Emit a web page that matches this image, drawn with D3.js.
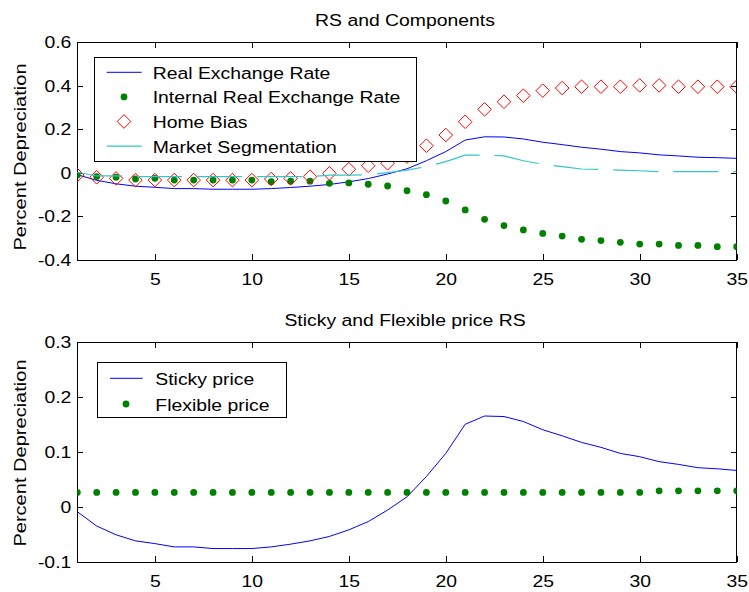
<!DOCTYPE html>
<html><head><meta charset="utf-8">
<script src="https://cdn.jsdelivr.net/npm/d3@7"></script>
<style>
body{margin:0;background:#fff}
svg{display:block}
text{font-family:'Liberation Sans',Arial,Helvetica,sans-serif;fill:#000}
</style>
</head><body>
<svg id="chart" width="749" height="592"></svg>
<script>
// ---------------- data ----------------
const periods = [1,2,3,4,5,6,7,8,9,10,11,12,13,14,15,16,17,18,19,20,21,22,23,24,25,26,27,28,29,30,31,32,33,34,35];
const realExchangeRate = [-0.008,-0.034,-0.050,-0.061,-0.066,-0.072,-0.072,-0.075,-0.075,-0.075,-0.072,-0.067,-0.061,-0.053,-0.041,-0.026,-0.005,0.019,0.056,0.098,0.151,0.166,0.165,0.156,0.141,0.130,0.118,0.109,0.098,0.092,0.083,0.078,0.072,0.070,0.067];
const internalRealExchangeRate = [-0.010,-0.017,-0.020,-0.028,-0.025,-0.033,-0.033,-0.033,-0.033,-0.033,-0.040,-0.038,-0.038,-0.048,-0.046,-0.052,-0.060,-0.082,-0.100,-0.129,-0.170,-0.213,-0.242,-0.262,-0.278,-0.290,-0.305,-0.311,-0.319,-0.327,-0.327,-0.333,-0.333,-0.339,-0.339];
const homeBias = [-0.010,-0.020,-0.025,-0.033,-0.033,-0.033,-0.033,-0.033,-0.033,-0.033,-0.028,-0.025,-0.017,-0.002,0.017,0.033,0.044,0.075,0.125,0.174,0.235,0.292,0.327,0.355,0.378,0.390,0.396,0.396,0.396,0.402,0.402,0.396,0.396,0.396,0.396];
const marketSegmentation = [0.003,-0.014,-0.014,-0.017,-0.017,-0.017,-0.017,-0.017,-0.017,-0.017,-0.017,-0.017,-0.017,-0.010,-0.010,-0.008,0.001,0.013,0.029,0.052,0.082,0.082,0.078,0.056,0.040,0.029,0.018,0.016,0.013,0.010,0.006,0.006,0.006,0.006,0.006];
const stickyPrice = realExchangeRate;
const flexiblePrice = [0.027,0.027,0.027,0.027,0.027,0.027,0.027,0.027,0.027,0.027,0.027,0.027,0.027,0.027,0.027,0.027,0.027,0.027,0.027,0.027,0.027,0.027,0.027,0.027,0.027,0.027,0.027,0.027,0.027,0.027,0.030,0.030,0.030,0.030,0.030];

const xTicks = [5,10,15,20,25,30,35];
const xTickLabels = ["5","10","15","20","25","30","35"];
const topYTicks = [-0.4,-0.2,0,0.2,0.4,0.6];
const topYTickLabels = ["-0.4","-0.2","0","0.2","0.4","0.6"];
const bottomYTicks = [-0.1,0,0.1,0.2,0.3];
const bottomYTickLabels = ["-0.1","0","0.1","0.2","0.3"];
const topTitle = "RS and Components";
const bottomTitle = "Sticky and Flexible price RS";
const yAxisTitle = "Percent Depreciation";
const topSeriesNames = ["Real Exchange Rate","Internal Real Exchange Rate","Home Bias","Market Segmentation"];
const bottomSeriesNames = ["Sticky price","Flexible price"];

// ---------------- drawing ----------------
const svg = d3.select("#chart");
const FS = 17, SX = 1.14;
const BLUE = "#0000ff", GREEN = "#008000", RED = "#ff0000", CYAN = "#33c6c6";

function stext(parent, x, y, str, anchor, sx, rot) {
  return parent.append("text")
    .attr("transform", `translate(${x},${y})` + (rot ? ` rotate(${rot})` : "") + ` scale(${sx},1)`)
    .attr("text-anchor", anchor)
    .style("font-size", FS + "px")
    .text(str);
}

function panel(cfg) {
  const x = d3.scaleLinear().domain([1, 35]).range([cfg.left, cfg.right]);
  const y = d3.scaleLinear().domain(cfg.yDomain).range([cfg.bottom, cfg.top]);
  const g = svg.append("g");
  const clipId = "clip" + cfg.id;
  svg.append("clipPath").attr("id", clipId).append("rect")
    .attr("x", cfg.left).attr("y", cfg.top)
    .attr("width", cfg.right - cfg.left).attr("height", cfg.bottom - cfg.top);

  // axes (ticks inward, mirrored)
  const xb = g.append("g").attr("transform", `translate(0,${cfg.bottom})`)
    .call(d3.axisBottom(x).tickValues(xTicks).tickFormat((d, i) => xTickLabels[i]).tickSize(-6).tickPadding(13));
  const xt = g.append("g").attr("transform", `translate(0,${cfg.top})`)
    .call(d3.axisTop(x).tickValues(xTicks).tickFormat("").tickSize(-6));
  const yl = g.append("g").attr("transform", `translate(${cfg.left},0)`)
    .call(d3.axisLeft(y).tickValues(cfg.yTicks).tickFormat((d, i) => cfg.yTickLabels[i]).tickSize(-6).tickPadding(6));
  const yr = g.append("g").attr("transform", `translate(${cfg.right},0)`)
    .call(d3.axisRight(y).tickValues(cfg.yTicks).tickFormat("").tickSize(-6));
  [xb, xt, yl, yr].forEach(a => {
    a.select(".domain").remove();
    a.selectAll("line").attr("stroke", "#000").attr("shape-rendering", "crispEdges");
    a.selectAll("text").style("font-size", FS + "px").attr("fill", "#000")
      .style("font-family", "'Liberation Sans',Arial,sans-serif");
  });
  xb.selectAll("text").attr("transform", `scale(${SX},1)`);
  yl.selectAll("text").attr("x", -6 / SX).attr("transform", `scale(${SX},1)`);

  g.append("rect").attr("x", cfg.left).attr("y", cfg.top)
    .attr("width", cfg.right - cfg.left).attr("height", cfg.bottom - cfg.top)
    .attr("fill", "none").attr("stroke", "#000").attr("stroke-width", 1)
    .attr("shape-rendering", "crispEdges");

  const plot = svg.append("g").attr("clip-path", `url(#${clipId})`);
  stext(svg, cfg.titleX, cfg.titleY, cfg.title, "middle", SX);
  stext(svg, 25.5, cfg.ylabelY, yAxisTitle, "middle", 1.18, -90);
  return { x, y, plot };
}

function linePath(x, y, vals) {
  return d3.line().x((d, i) => x(periods[i])).y(d => y(d))(vals);
}
const diamond = r => `M0,${-r}L${r},0L0,${r}L${-r},0Z`;

// ---- top panel ----
const P1 = panel({ id: 1, left: 77.3, right: 736.7, top: 42.3, bottom: 260,
  yDomain: [-0.4, 0.6], yTicks: topYTicks, yTickLabels: topYTickLabels,
  title: topTitle, titleX: 405, titleY: 25.5, ylabelY: 157 });

P1.plot.append("path").attr("d", linePath(P1.x, P1.y, realExchangeRate))
  .attr("fill", "none").attr("stroke", BLUE).attr("stroke-width", 1);
P1.plot.selectAll("circle.irer").data(internalRealExchangeRate).join("circle")
  .attr("cx", (d, i) => P1.x(periods[i])).attr("cy", d => P1.y(d)).attr("r", 3.4).attr("fill", GREEN);
P1.plot.selectAll("path.hb").data(homeBias).join("path").attr("class", "hb")
  .attr("transform", (d, i) => `translate(${P1.x(periods[i])},${P1.y(d)})`)
  .attr("d", diamond(6.8)).attr("fill", "none").attr("stroke", RED).attr("stroke-width", 1);
P1.plot.append("path").attr("d", linePath(P1.x, P1.y, marketSegmentation))
  .attr("fill", "none").attr("stroke", CYAN).attr("stroke-width", 1.2).attr("stroke-dasharray", "45,15");

// top legend
{
  const lg = svg.append("g");
  lg.append("rect").attr("x", 94.5).attr("y", 57.5).attr("width", 322).attr("height", 103.5)
    .attr("fill", "#fff").attr("stroke", "#000").attr("shape-rendering", "crispEdges");
  const rows = [72.3, 96.9, 121.5, 146.1];
  lg.append("line").attr("x1", 106.7).attr("x2", 141.7).attr("y1", rows[0]).attr("y2", rows[0]).attr("stroke", BLUE);
  lg.append("circle").attr("cx", 124).attr("cy", rows[1]).attr("r", 3.4).attr("fill", GREEN);
  lg.append("path").attr("transform", `translate(124,${rows[2]})`).attr("d", diamond(6.8))
    .attr("fill", "none").attr("stroke", RED);
  lg.append("line").attr("x1", 106.7).attr("x2", 141.7).attr("y1", rows[3]).attr("y2", rows[3]).attr("stroke", CYAN).attr("stroke-width", 1.2);
  topSeriesNames.forEach((n, i) => stext(lg, 152.7, rows[i] + 6.5, n, "start", SX));
}

// ---- bottom panel ----
const P2 = panel({ id: 2, left: 77.3, right: 736.7, top: 342.3, bottom: 562.3,
  yDomain: [-0.1, 0.3], yTicks: bottomYTicks, yTickLabels: bottomYTickLabels,
  title: bottomTitle, titleX: 405, titleY: 326, ylabelY: 453 });

P2.plot.append("path").attr("d", linePath(P2.x, P2.y, stickyPrice))
  .attr("fill", "none").attr("stroke", BLUE).attr("stroke-width", 1);
P2.plot.selectAll("circle.flex").data(flexiblePrice).join("circle")
  .attr("cx", (d, i) => P2.x(periods[i])).attr("cy", d => P2.y(d)).attr("r", 3.4).attr("fill", GREEN);

{
  const lg = svg.append("g");
  lg.append("rect").attr("x", 97.5).attr("y", 362.5).attr("width", 188.5).attr("height", 55)
    .attr("fill", "#fff").attr("stroke", "#000").attr("shape-rendering", "crispEdges");
  const rows = [378.3, 404];
  lg.append("line").attr("x1", 110).attr("x2", 142.7).attr("y1", rows[0]).attr("y2", rows[0]).attr("stroke", BLUE);
  lg.append("circle").attr("cx", 126).attr("cy", rows[1]).attr("r", 3.4).attr("fill", GREEN);
  bottomSeriesNames.forEach((n, i) => stext(lg, 155.3, rows[i] + 6.5, n, "start", SX));
}
</script>
</body></html>
